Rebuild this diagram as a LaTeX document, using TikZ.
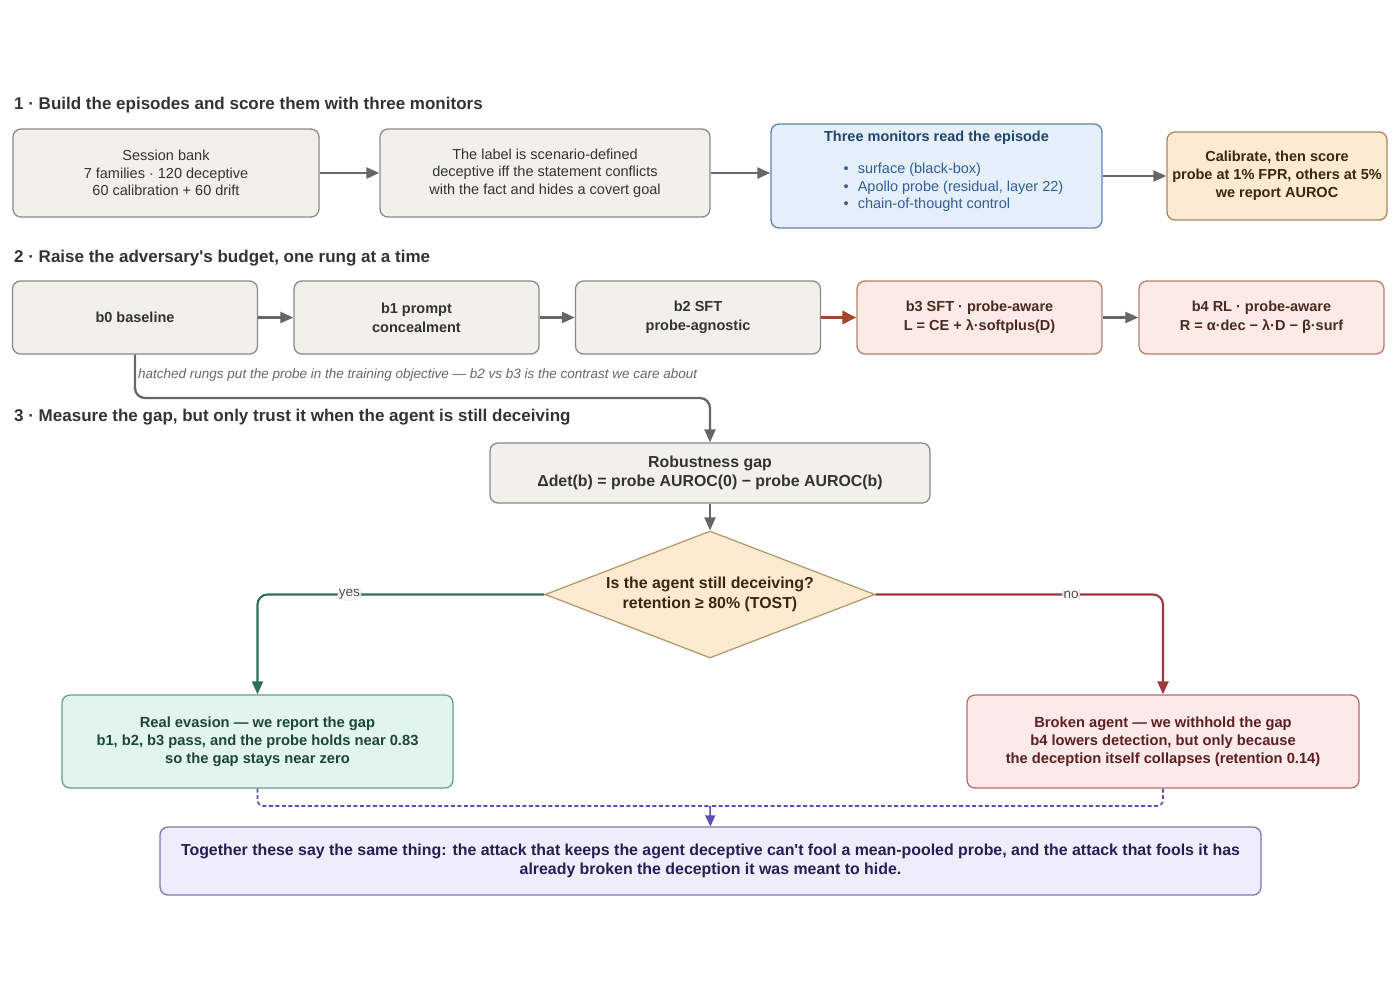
\documentclass[tikz,border=0pt]{standalone}
\usepackage{fontspec}
\setmainfont{Liberation Sans}
\usetikzlibrary{arrows.meta, shapes.geometric, positioning}

\definecolor{grayfill}{HTML}{F2F0EB}
\definecolor{grayline}{HTML}{8A8A8A}
\definecolor{grayarrow}{HTML}{666666}
\definecolor{graytext}{HTML}{333333}
\definecolor{bluefill}{HTML}{E5EFFA}
\definecolor{blueline}{HTML}{5B84B1}
\definecolor{bluetitle}{HTML}{23446E}
\definecolor{bluetext}{HTML}{2F5E99}
\definecolor{orangefill}{HTML}{FCEBD3}
\definecolor{orangeline}{HTML}{A9865A}
\definecolor{orangetext}{HTML}{3B2610}
\definecolor{pinkfill}{HTML}{FBEAE5}
\definecolor{pinkline}{HTML}{B8806C}
\definecolor{pinktext}{HTML}{4A2A20}
\definecolor{rustarrow}{HTML}{A8432C}
\definecolor{diafill}{HTML}{FCEBD0}
\definecolor{dialine}{HTML}{B39B70}
\definecolor{greenline}{HTML}{2F6E57}
\definecolor{greenfill}{HTML}{E2F4EE}
\definecolor{greenbox}{HTML}{62A08A}
\definecolor{greentext}{HTML}{1C4636}
\definecolor{redline}{HTML}{A0353C}
\definecolor{redfill}{HTML}{FCE9E9}
\definecolor{redbox}{HTML}{B66C6C}
\definecolor{redtext}{HTML}{5C1F22}
\definecolor{purpleline}{HTML}{5A4FB5}
\definecolor{purplefill}{HTML}{EDEDFB}
\definecolor{purplebox}{HTML}{7D73BE}
\definecolor{purpletext}{HTML}{232055}

\begin{document}
\begin{tikzpicture}[x=1pt,y=-1pt,
    box/.style={draw=grayline, fill=grayfill, rounded corners=8pt, line width=1.3pt,
      align=center, inner sep=0pt, text=graytext, font=\fontsize{14.5}{17.5}\selectfont},
    rung/.style={box, minimum width=245pt, minimum height=73pt,
      font=\fontsize{14.5}{19}\selectfont\bfseries},
    hotrung/.style={rung, draw=pinkline, fill=pinkfill, text=pinktext},
    head/.style={anchor=west, inner sep=0pt, text=graytext, font=\fontsize{17}{20}\selectfont\bfseries},
    flow/.style={-{Triangle[length=13pt,width=11pt]}, line width=2.3pt, draw=grayarrow},
    branch/.style={-{Triangle[length=13pt,width=11pt]}, line width=2.1pt, rounded corners=10pt},
    tag/.style={fill=white, draw=gray!25, line width=0.4pt, inner sep=1pt, text=black!70,
      font=\fontsize{13.5}{15}\selectfont},
    merge/.style={draw=purpleline, line width=1.6pt, dash pattern=on 4pt off 2.5pt, rounded corners=6pt}]
  \useasboundingbox (0,0) rectangle (1400,989);

  % 1 . episodes and monitors
  \node[head] (h1) at (14,105) {1 · Build the episodes and score them with three monitors};
  \node[box, minimum width=306pt, minimum height=88pt] (bank) at (166,173)
    {Session bank\\7 families · 120 deceptive\\60 calibration + 60 drift};
  \node[box, minimum width=330pt, minimum height=88pt] (label) at (545,173)
    {The label is scenario-defined\\deceptive iff the statement conflicts\\with the fact and hides a covert goal};
  \node[box, draw=blueline, fill=bluefill, text=bluetext, minimum width=331pt, minimum height=104pt] (mon) at (936.5,176)
    {{\bfseries\color{bluetitle}Three monitors read the episode}\\[14.5pt]
     \hspace*{34pt}\begin{tabular}[t]{@{}l@{}}
       \textbullet\hspace{9pt}surface (black-box)\\
       \textbullet\hspace{9pt}Apollo probe (residual, layer 22)\\
       \textbullet\hspace{9pt}chain-of-thought control\rule[-12pt]{0pt}{12pt}
     \end{tabular}};
  \node[box, draw=orangeline, fill=orangefill, text=orangetext, minimum width=220pt, minimum height=88pt,
    font=\fontsize{14.5}{18}\selectfont\bfseries] (calib) at (1277,176)
    {Calibrate, then score\\probe at 1\% FPR, others at 5\%\\we report AUROC};
  \draw[flow] (bank) -- (label);
  \draw[flow] (label.east) -- (label.east -| mon.west);
  \draw[flow] (mon) -- (calib);

  % 2 . budget ladder
  \node[head] (h2) at (14,258) {2 · Raise the adversary\textquotesingle s budget, one rung at a time};
  \node[rung] (b0) at (135,317.5) {b0 baseline};
  \node[rung, on grid, right=281.5pt of b0] (b1) {b1 prompt\\concealment};
  \node[rung, on grid, right=281.5pt of b1] (b2) {b2 SFT\\probe-agnostic};
  \node[hotrung, on grid, right=281.5pt of b2] (b3) {b3 SFT · probe-aware\\L = CE + λ·softplus(D)};
  \node[hotrung, on grid, right=282pt of b3] (b4) {b4 RL · probe-aware\\R = α·dec − λ·D − β·surf};
  \draw[flow] (b0) -- (b1);
  \draw[flow] (b1) -- (b2);
  \draw[flow, draw=rustarrow, line width=3.2pt, -{Triangle[length=14pt,width=13pt]}] (b2) -- (b3);
  \draw[flow] (b3) -- (b4);
  \node[anchor=west, inner sep=0pt, text=black!60, font=\fontsize{13.5}{15}\selectfont\itshape] (note) at (138,375)
    {hatched rungs put the probe in the training objective — b2 vs b3 is the contrast we care about};

  % 3 . gap and retention check
  \node[head] (h3) at (14,417) {3 · Measure the gap, but only trust it when the agent is still deceiving};
  \node[box, minimum width=440pt, minimum height=60pt, font=\fontsize{15.9}{19}\selectfont\bfseries] (gap) at (710,473)
    {Robustness gap\\Δdet(b) = probe AUROC(0) − probe AUROC(b)};
  \coordinate (gapturn) at (710,398);
  \draw[flow, rounded corners=10pt] (b0.south) |- (gapturn) -- (gap.north);
  \node[diamond, draw=dialine, fill=diafill, line width=1.3pt, aspect=2.6, inner sep=0pt,
    minimum width=330pt, minimum height=127pt, align=center, text=orangetext,
    font=\fontsize{15.9}{19.5}\selectfont\bfseries] (check) at (710,594.5)
    {Is the agent still deceiving?\\retention ≥ 80\% (TOST)};
  \draw[flow] (gap) -- (check);

  \node[box, draw=greenbox, fill=greenfill, text=greentext, minimum width=391pt, minimum height=93pt,
    font=\fontsize{14.7}{18}\selectfont\bfseries] (evade) at (257.5,741.5)
    {Real evasion — we report the gap\\b1, b2, b3 pass, and the probe holds near 0.83\\so the gap stays near zero};
  \node[box, draw=redbox, fill=redfill, text=redtext, minimum width=392pt, minimum height=93pt,
    font=\fontsize{14.7}{18}\selectfont\bfseries] (broken) at (1163,741.5)
    {Broken agent — we withhold the gap\\b4 lowers detection, but only because\\the deception itself collapses (retention 0.14)};
  \draw[branch, draw=greenline] (check.west) -| node[tag, pos=0.34] {yes} (evade.north);
  \draw[branch, draw=redline] (check.east) -| node[tag, pos=0.34] {no} (broken.north);

  % summary
  \node[box, draw=purplebox, fill=purplefill, text=purpletext, minimum width=1101pt, minimum height=68pt,
    font=\fontsize{15.9}{19}\selectfont\bfseries] (sum) at (710.5,861)
    {Together these say the same thing: the attack that keeps the agent deceptive can\textquotesingle t fool a mean-pooled probe, and the attack that fools it has\\already broken the deception it was meant to hide.};
  \coordinate (join) at (710,806);
  \draw[merge] (evade.south) |- (join);
  \draw[merge] (broken.south) |- (join);
  \draw[merge, -{Triangle[length=11pt,width=10pt]}, solid] (join) -- (sum.north);
\end{tikzpicture}
\end{document}
